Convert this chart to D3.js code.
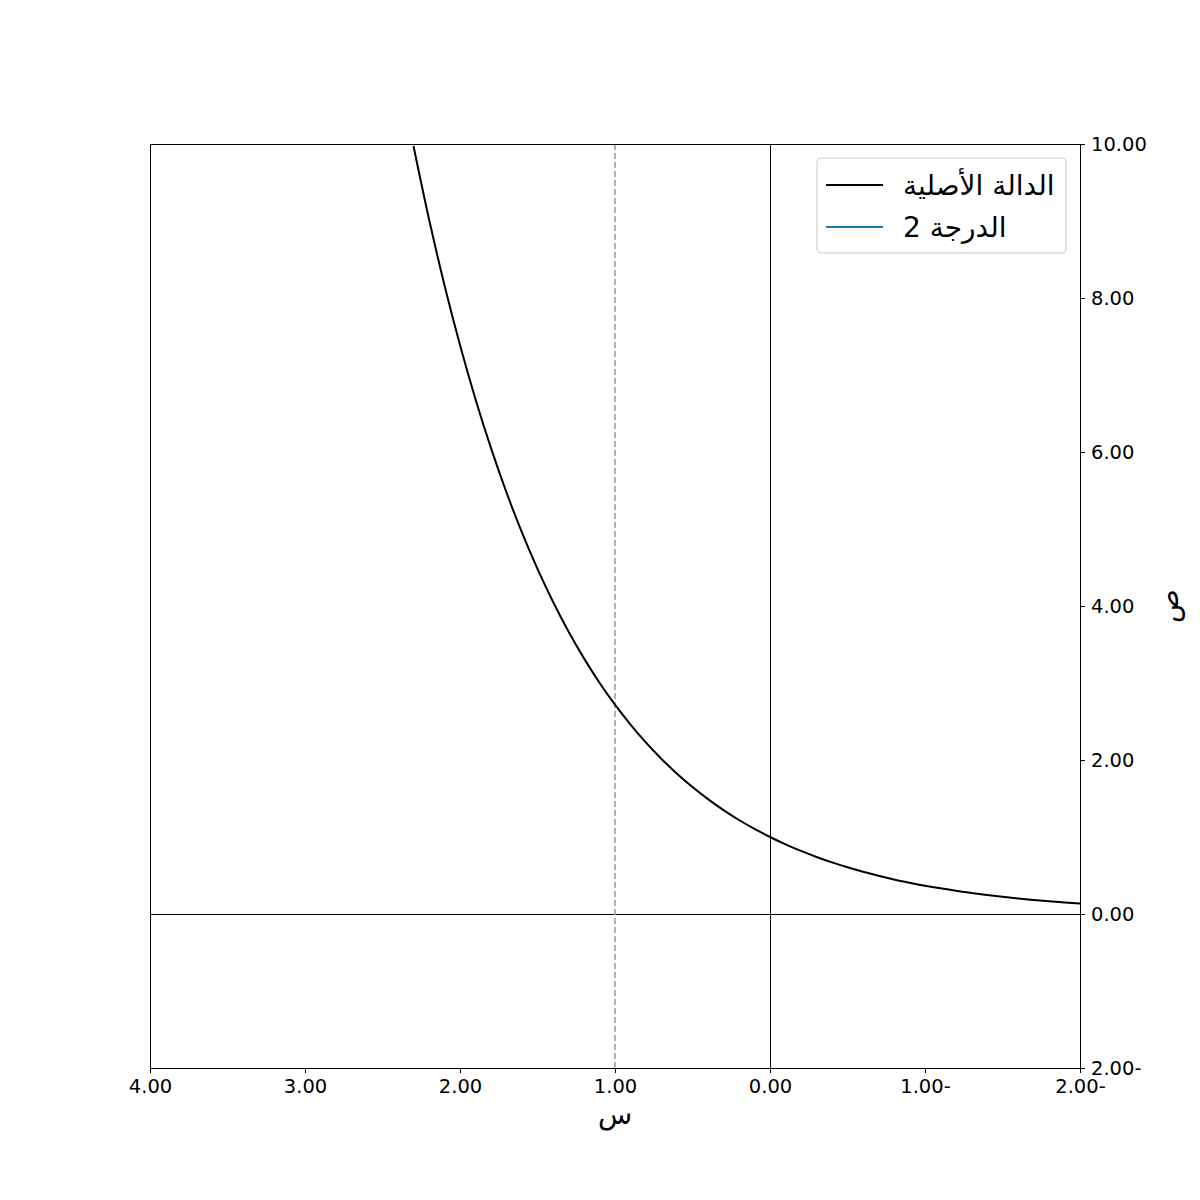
<!DOCTYPE html>
<html lang="ar">
<head>
<meta charset="utf-8">
<script src="https://d3js.org/d3.v7.min.js"></script>
<style>
  body { margin: 0; background: #fff; }
  svg text { font-family: "DejaVu Sans", sans-serif; fill: #000; }
  .axis path, .axis line { stroke: #000; stroke-width: 1; shape-rendering: crispEdges; }
  .axis text { font-size: 19.5px; }
</style>
</head>
<body>
<svg id="chart" width="1200" height="1200"></svg>
<script>
// x values of the original curve
var xs = [2.3, 2.2, 2.1, 2.0, 1.9, 1.8, 1.7, 1.6, 1.5, 1.4, 1.3, 1.2, 1.1, 1.0,
  0.9, 0.8, 0.7, 0.6, 0.5, 0.4, 0.3, 0.2, 0.1, 0.0, -0.1, -0.2, -0.3, -0.4,
  -0.5, -0.6, -0.7, -0.8, -0.9, -1.0, -1.1, -1.2, -1.3, -1.4, -1.5, -1.6,
  -1.7, -1.8, -1.9, -2.0];
var original = [9.974, 9.025, 8.166, 7.389, 6.686, 6.050, 5.474, 4.953, 4.482,
  4.055, 3.669, 3.320, 3.004, 2.718, 2.460, 2.226, 2.014, 1.822, 1.649, 1.492,
  1.350, 1.221, 1.105, 1.000, 0.905, 0.819, 0.741, 0.670, 0.607, 0.549, 0.497,
  0.449, 0.407, 0.368, 0.333, 0.301, 0.273, 0.247, 0.223, 0.202, 0.183, 0.165,
  0.150, 0.135];
var degree2 = [];  // nothing visible in the plotted range

var xTicks = [4, 3, 2, 1, 0, -1, -2];
var xTickLabels = ["4.00", "3.00", "2.00", "1.00", "0.00", "1.00-", "2.00-"];
var yTicks = [-2, 0, 2, 4, 6, 8, 10];
var yTickLabels = ["2.00-", "0.00", "2.00", "4.00", "6.00", "8.00", "10.00"];
var seriesNames = ["الدالة الأصلية", "الدرجة 2"];
var seriesColors = ["#000000", "#1f77b4"];
var markX = 1;

var margin = {top: 144, right: 120, bottom: 132, left: 150};
var width = 1200 - margin.left - margin.right,
    height = 1200 - margin.top - margin.bottom;

var svg = d3.select("#chart");
var g = svg.append("g").attr("transform", "translate(" + margin.left + "," + margin.top + ")");

var x = d3.scaleLinear().domain([4, -2]).range([0, width]);
var y = d3.scaleLinear().domain([-2, 10]).range([height, 0]);

g.append("clipPath").attr("id", "clip")
  .append("rect").attr("width", width).attr("height", height);

// reference lines
g.append("line")
  .attr("x1", 0).attr("x2", width).attr("y1", y(0)).attr("y2", y(0))
  .attr("stroke", "#000").attr("stroke-width", 1)
  .attr("shape-rendering", "crispEdges");
g.append("line")
  .attr("x1", x(0)).attr("x2", x(0)).attr("y1", 0).attr("y2", height)
  .attr("stroke", "#000").attr("stroke-width", 1)
  .attr("shape-rendering", "crispEdges");
g.append("line")
  .attr("x1", x(markX)).attr("x2", x(markX)).attr("y1", 0).attr("y2", height)
  .attr("stroke", "#a0a0a0").attr("stroke-width", 1.6)
  .attr("stroke-dasharray", "6,3");

var line = d3.line()
  .x(function(d) { return x(d[0]); })
  .y(function(d) { return y(d[1]); })
  .curve(d3.curveMonotoneX);

g.append("path")
  .datum(xs.map(function(v, i) { return [v, original[i]]; }))
  .attr("clip-path", "url(#clip)")
  .attr("fill", "none")
  .attr("stroke", seriesColors[0])
  .attr("stroke-width", 2)
  .attr("d", line);

if (degree2.length) {
  g.append("path")
    .datum(degree2)
    .attr("clip-path", "url(#clip)")
    .attr("fill", "none")
    .attr("stroke", seriesColors[1])
    .attr("stroke-width", 2)
    .attr("d", line);
}

// axes
g.append("g")
  .attr("class", "axis")
  .attr("transform", "translate(0," + height + ")")
  .call(d3.axisBottom(x).tickValues(xTicks).tickSize(5).tickPadding(6)
    .tickFormat(function(d, i) { return xTickLabels[i]; }));

g.append("g")
  .attr("class", "axis")
  .attr("transform", "translate(" + width + ",0)")
  .call(d3.axisRight(y).tickValues(yTicks).tickSize(5).tickPadding(6)
    .tickFormat(function(d, i) { return yTickLabels[i]; }));

// frame
g.append("rect")
  .attr("width", width).attr("height", height)
  .attr("fill", "none").attr("stroke", "#000").attr("stroke-width", 1)
  .attr("shape-rendering", "crispEdges");

// axis labels
svg.append("text")
  .attr("x", margin.left + width / 2)
  .attr("y", 1124)
  .attr("text-anchor", "middle")
  .style("font-size", "28px")
  .text("س");

svg.append("text")
  .attr("transform", "translate(1178," + (margin.top + height / 2) + ") rotate(-90)")
  .attr("text-anchor", "middle")
  .style("font-size", "28px")
  .text("ص");

// legend
var legend = g.append("g").attr("transform", "translate(" + (817 - margin.left) + "," + (158 - margin.top) + ")");
legend.append("rect")
  .attr("width", 249).attr("height", 95)
  .attr("rx", 4).attr("ry", 4)
  .attr("fill", "#fff").attr("fill-opacity", 0.8)
  .attr("stroke", "#cccccc").attr("stroke-width", 1);

seriesNames.forEach(function(name, i) {
  var row = legend.append("g").attr("transform", "translate(0," + (27 + i * 42) + ")");
  row.append("line")
    .attr("x1", 9).attr("x2", 66)
    .attr("stroke", seriesColors[i]).attr("stroke-width", 2);
  row.append("text")
    .attr("x", 86)
    .attr("dy", "0.35em")
    .attr("direction", "rtl")
    .attr("text-anchor", "end")
    .style("font-size", "28px")
    .text(name);
});
</script>
</body>
</html>
